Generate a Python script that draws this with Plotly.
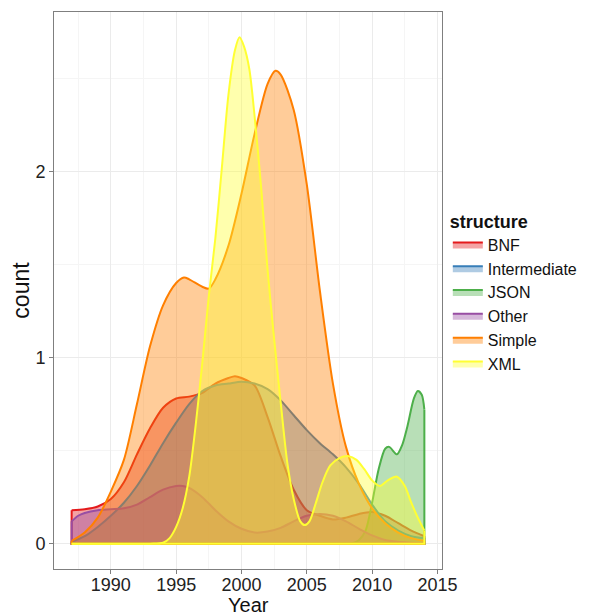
import plotly.graph_objects as go

# density (count) curves, one x/y pair per structure
bnf_x = [1987, 1988, 1989, 1990, 1991, 1992, 1993, 1994, 1995, 1996, 1997, 1998, 1999, 1999.5,
         2000, 2001, 2002, 2003, 2004, 2005, 2006, 2007, 2008, 2009, 2010, 2011, 2012, 2013, 2014]
bnf_y = [0.18, 0.185, 0.20, 0.24, 0.33, 0.48, 0.62, 0.73, 0.78, 0.79, 0.81, 0.86, 0.89, 0.90,
         0.89, 0.85, 0.68, 0.47, 0.29, 0.18, 0.15, 0.13, 0.14, 0.16, 0.17, 0.15, 0.11, 0.07, 0.04]

inter_x = [1987, 1988, 1989, 1990, 1991, 1992, 1993, 1994, 1995, 1996, 1997, 1998, 1999, 2000,
           2001, 2002, 2003, 2004, 2005, 2006, 2007, 2008, 2009, 2010, 2011, 2012, 2013, 2014]
inter_y = [0.01, 0.04, 0.09, 0.15, 0.22, 0.31, 0.42, 0.54, 0.65, 0.75, 0.82, 0.85, 0.86, 0.87,
           0.86, 0.83, 0.77, 0.69, 0.61, 0.54, 0.48, 0.41, 0.32, 0.21, 0.12, 0.07, 0.04, 0.03]

json_x = [1987, 1995, 2003, 2008, 2008.5, 2009, 2009.5, 2010, 2010.5, 2011, 2011.3, 2011.9,
          2012.3, 2012.7, 2013.2, 2013.5, 2013.8, 2014]
json_y = [0, 0, 0, 0, 0.003, 0.02, 0.07, 0.22, 0.40, 0.51, 0.52, 0.48,
          0.53, 0.63, 0.78, 0.82, 0.80, 0.72]

other_x = [1987, 1987.5, 1988, 1989, 1990, 1991, 1992, 1993, 1994, 1995, 1995.5, 1996, 1997, 1998,
           1999, 2000, 2001, 2002, 2003, 2004, 2005, 2006, 2007, 2008, 2009, 2010, 2011, 2012, 2013, 2014]
other_y = [0.12, 0.15, 0.165, 0.18, 0.185, 0.19, 0.21, 0.25, 0.29, 0.31, 0.31, 0.30, 0.25, 0.18,
           0.12, 0.08, 0.06, 0.065, 0.085, 0.12, 0.15, 0.16, 0.15, 0.12, 0.08, 0.045, 0.02, 0.01, 0.005, 0.0]

simple_x = [1987, 1988, 1989, 1990, 1991, 1992, 1993, 1994, 1995, 1995.6, 1996, 1997, 1997.5, 1998,
            1999, 2000, 2001, 2002, 2002.6, 2003, 2004, 2005, 2006, 2007, 2008, 2009, 2010, 2011,
            2012, 2013, 2014]
simple_y = [0.015, 0.06, 0.14, 0.28, 0.45, 0.75, 1.06, 1.28, 1.40, 1.43, 1.42, 1.38, 1.37, 1.42,
            1.60, 1.88, 2.20, 2.47, 2.54, 2.52, 2.33, 1.93, 1.36, 0.86, 0.52, 0.32, 0.19, 0.11,
            0.06, 0.03, 0.015]

xml_x = [1987, 1990, 1993, 1994, 1994.5, 1995, 1995.5, 1996, 1996.5, 1997, 1997.5, 1998, 1998.5,
         1999, 1999.5, 1999.85, 2000.2, 2000.6, 2001, 2001.5, 2002, 2002.5, 2003, 2003.5, 2004,
         2004.5, 2004.85, 2005.2, 2005.7, 2006.2, 2006.8, 2007.5, 2008.2, 2008.8, 2009.4, 2010,
         2010.6, 2011.2, 2011.9, 2012.5, 2013, 2013.5, 2014]
xml_y = [0, 0, 0, 0.005, 0.03, 0.09, 0.19, 0.36, 0.64, 0.97, 1.33, 1.64, 2.02,
         2.41, 2.65, 2.72, 2.67, 2.55, 2.30, 1.92, 1.47, 1.10, 0.76, 0.44, 0.24,
         0.12, 0.10, 0.12, 0.22, 0.33, 0.42, 0.46, 0.47, 0.45, 0.40, 0.34,
         0.31, 0.34, 0.36, 0.31, 0.22, 0.14, 0.07]

structures = ['BNF', 'Intermediate', 'JSON', 'Other', 'Simple', 'XML']
series = {
    'BNF': (bnf_x, bnf_y),
    'Intermediate': (inter_x, inter_y),
    'JSON': (json_x, json_y),
    'Other': (other_x, other_y),
    'Simple': (simple_x, simple_y),
    'XML': (xml_x, xml_y),
}
# ColorBrewer Set1
colors = {
    'BNF': (228, 26, 28),
    'Intermediate': (55, 126, 184),
    'JSON': (77, 175, 74),
    'Other': (152, 78, 163),
    'Simple': (255, 127, 0),
    'XML': (255, 255, 51),
}

fig = go.Figure()
for name in structures:
    xs, ys = series[name]
    r, g, b = colors[name]
    line_col = f'rgb({r},{g},{b})'
    fill_col = f'rgba({r},{g},{b},0.4)'
    fig.add_trace(go.Scatter(
        x=xs, y=ys, name=name, mode='lines',
        line=dict(color=line_col, width=2, shape='spline', smoothing=0.8),
        fill='tozeroy', fillcolor=fill_col, hoverinfo='skip',
    ))
    # closing edges of the density polygon (sides and baseline)
    fig.add_trace(go.Scatter(
        x=[xs[0], xs[0], xs[-1], xs[-1]], y=[ys[0], 0, 0, ys[-1]],
        mode='lines', line=dict(color=line_col, width=2),
        showlegend=False, hoverinfo='skip',
    ))

font = 'Liberation Sans, Arial, sans-serif'
axis_common = dict(
    automargin=False,
    showgrid=True, gridcolor='#ebebeb', gridwidth=1,
    zeroline=False, showline=True, linecolor='#7f7f7f', linewidth=1, mirror=True,
    ticks='outside', ticklen=4, tickcolor='#7f7f7f',
    tickfont=dict(size=18, color='#222222', family=font),
)

fig.update_xaxes(
    range=[1985.65, 2015.35], tickvals=[1990, 1995, 2000, 2005, 2010, 2015],
    minor=dict(tickvals=[1987.5, 1992.5, 1997.5, 2002.5, 2007.5, 2012.5],
               showgrid=True, gridcolor='#f5f5f5', ticks=''),
    ticklabelstandoff=-5,
    **axis_common,
)
fig.update_yaxes(
    range=[-0.136, 2.856], tickvals=[0, 1, 2],
    minor=dict(tickvals=[0.5, 1.5, 2.5], showgrid=True, gridcolor='#f5f5f5', ticks=''),
    title=dict(text='count', font=dict(size=23, family=font, color='#111111'), standoff=2),
    **axis_common,
)

# x title as an annotation so it can sit tight under the tick labels
fig.add_annotation(
    text='Year', x=0.5, y=0, xref='paper', yref='paper',
    xanchor='center', yanchor='top', yshift=-24, showarrow=False, borderpad=0,
    font=dict(size=20, family=font, color='#111111'),
)

# the page body adds an 8px offset, so the figure is 8px smaller than the window
fig.update_layout(
    width=591, height=608,
    margin=dict(l=46, r=157, t=4, b=47),
    plot_bgcolor='white', paper_bgcolor='white',
    font=dict(family=font, size=16, color='#111111'),
    showlegend=True,
    legend=dict(
        title=dict(text='<b>structure</b>', font=dict(size=18, family=font)),
        x=1.015, xanchor='left', y=0.655, yanchor='top',
        font=dict(size=16, family=font), tracegroupgap=0, itemwidth=30,
        bgcolor='rgba(0,0,0,0)',
    ),
)

fig.write_html("out.html")
